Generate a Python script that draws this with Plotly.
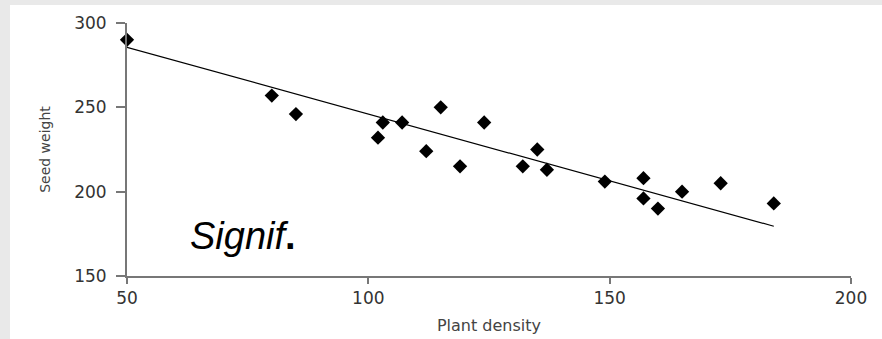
import plotly.graph_objects as go

plant_density = [50, 80, 85, 102, 103, 107, 115, 112, 119, 124, 132, 135, 137,
                 149, 157, 157, 160, 165, 173, 184]
seed_weight = [290, 257, 246, 232, 241, 241, 250, 224, 215, 241, 215, 225, 213,
               206, 208, 196, 190, 200, 205, 193]
fit_x = [50, 184]
fit_y = [285.6, 179.5]
x_ticks = [50, 100, 150, 200]
y_ticks = [150, 200, 250, 300]

W, H = 882, 339
ml, mr, mt, mb = 127, 31, 23, 62.5
pw, ph = W - ml - mr, H - mt - mb

def px_x(p):
    return (p - ml) / pw

def px_y(p):
    return 1 - (p - mt) / ph

fig = go.Figure()
fig.add_trace(go.Scatter(x=fit_x, y=fit_y, mode="lines", cliponaxis=False,
                         line=dict(color="black", width=1.2), hoverinfo="skip"))
fig.add_trace(go.Scatter(x=plant_density, y=seed_weight, mode="markers",
                         cliponaxis=False,
                         marker=dict(symbol="diamond", size=11, color="black",
                                     line=dict(width=0))))

gray = "#e9e9e9"
shapes = [
    dict(type="rect", xref="paper", yref="paper", layer="below",
         x0=px_x(-5), x1=px_x(10), y0=px_y(H + 5), y1=px_y(-5),
         fillcolor=gray, line=dict(width=0)),
    dict(type="rect", xref="paper", yref="paper", layer="below",
         x0=px_x(-5), x1=px_x(W + 5), y0=px_y(5), y1=px_y(-5),
         fillcolor=gray, line=dict(width=0)),
]

fig.update_layout(
    width=W, height=H,
    margin=dict(l=ml, r=mr, t=mt, b=mb, autoexpand=False),
    paper_bgcolor="white",
    plot_bgcolor="white",
    showlegend=False,
    shapes=shapes,
    font=dict(family="DejaVu Sans", color="#333333"),
    xaxis=dict(range=[50, 200], tickvals=x_ticks, showgrid=False, zeroline=False,
               automargin=False,
               showline=True, linecolor="#777777", linewidth=2,
               ticks="outside", ticklen=6, tickwidth=1.5, tickcolor="#777777",
               tickfont=dict(size=17, color="#333333"),
               title=dict(text="Plant density", font=dict(size=16, color="#444444"),
                          standoff=12)),
    yaxis=dict(range=[150, 300], tickvals=y_ticks, showgrid=False, zeroline=False,
               automargin=False,
               showline=True, linecolor="#777777", linewidth=2,
               ticks="outside", ticklen=9, tickwidth=1.5, tickcolor="#777777",
               tickfont=dict(size=17, color="#333333"), ticklabelstandoff=6,
               title=dict(text="Seed weight", font=dict(size=14, color="#444444"),
                          standoff=20)),
    annotations=[
        dict(text="<i>Signif</i><b>.</b>", xref="paper", yref="paper",
             x=px_x(188), y=px_y(236), xanchor="left", yanchor="middle",
             showarrow=False,
             font=dict(family="Liberation Sans", size=38, color="black")),
    ],
)

fig.write_html("out.html")
